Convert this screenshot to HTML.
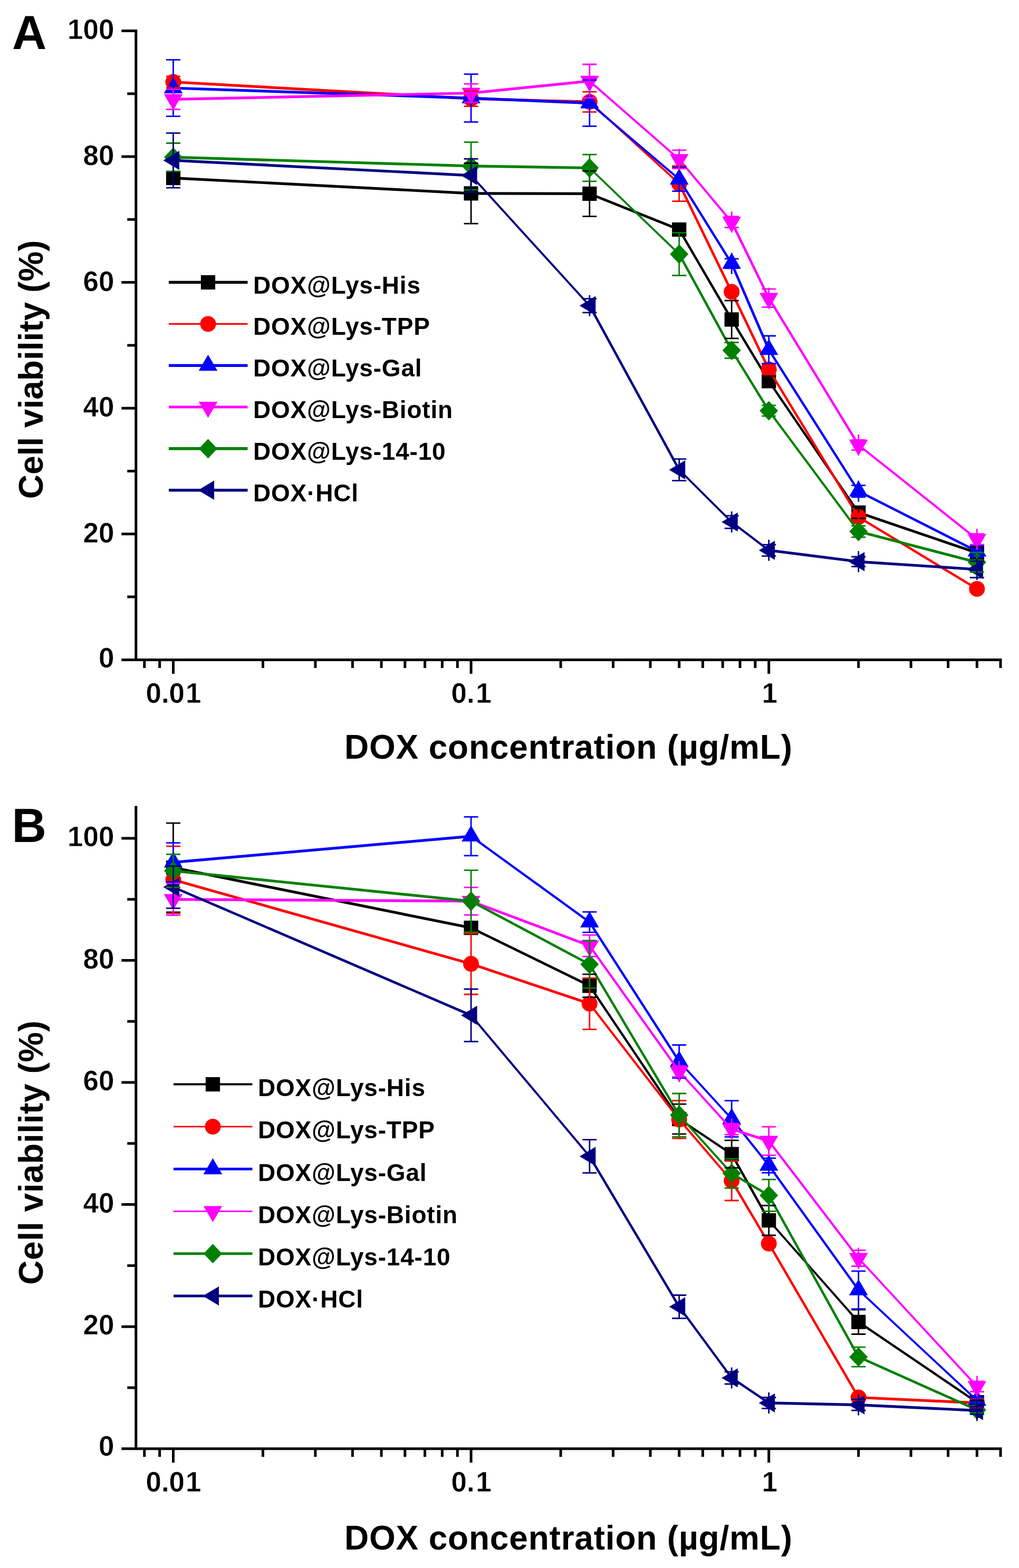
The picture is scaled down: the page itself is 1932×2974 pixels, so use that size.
<!DOCTYPE html>
<html lang="en"><head><meta charset="utf-8"><title>Cell viability vs DOX concentration</title>
<style>html,body{margin:0;padding:0;background:#fff}body{width:1932px;height:2974px;overflow:hidden}svg{display:block}</style>
</head><body>
<svg width="1932" height="2974" viewBox="0 0 1932 2974" role="img" aria-label="Cell viability versus DOX concentration, panels A and B">
<rect width="1932" height="2974" fill="#fff"/>
<g>
<path fill="none" stroke="#000000" stroke-width="5.19" d="M328.5 337.6L893.1 366.8"/>
<path fill="none" stroke="#000000" stroke-width="5.20" d="M893.1 366.8L1117.8 367.4"/>
<path fill="none" stroke="#000000" stroke-width="4.83" d="M1117.8 367.4L1287.7 435.4"/>
<path fill="none" stroke="#000000" stroke-width="4.49" d="M1287.7 435.4L1387.2 606"/>
<path fill="none" stroke="#000000" stroke-width="4.45" d="M1387.2 606L1457.7 722.9"/>
<path fill="none" stroke="#000000" stroke-width="4.30" d="M1457.7 722.9L1627.7 972.2"/>
<path fill="none" stroke="#000000" stroke-width="4.92" d="M1627.7 972.2L1852.3 1048.6"/>
<rect x="314.9" y="324" width="27.2" height="27.2" fill="#000000"/>
<rect x="879.5" y="353.2" width="27.2" height="27.2" fill="#000000"/>
<rect x="1104.2" y="353.8" width="27.2" height="27.2" fill="#000000"/>
<rect x="1274.1" y="421.8" width="27.2" height="27.2" fill="#000000"/>
<rect x="1373.6" y="592.4" width="27.2" height="27.2" fill="#000000"/>
<rect x="1444.1" y="709.3" width="27.2" height="27.2" fill="#000000"/>
<rect x="1614.1" y="958.6" width="27.2" height="27.2" fill="#000000"/>
<rect x="1838.7" y="1035" width="27.2" height="27.2" fill="#000000"/>
<path fill="none" stroke="#ff0000" stroke-width="5.19" d="M328.5 155.5L893.1 187.2"/>
<path fill="none" stroke="#ff0000" stroke-width="5.20" d="M893.1 187.2L1117.8 193.2"/>
<path fill="none" stroke="#ff0000" stroke-width="3.84" d="M1117.8 193.2L1287.7 348.3"/>
<path fill="none" stroke="#ff0000" stroke-width="4.68" d="M1287.7 348.3L1387.2 553.5"/>
<path fill="none" stroke="#ff0000" stroke-width="4.69" d="M1387.2 553.5L1457.7 700.8"/>
<path fill="none" stroke="#ff0000" stroke-width="4.44" d="M1457.7 700.8L1627.7 980.6"/>
<path fill="none" stroke="#ff0000" stroke-width="4.45" d="M1627.7 980.6L1852.3 1116.9"/>
<circle cx="328.5" cy="155.5" r="15" fill="#ff0000"/>
<circle cx="893.1" cy="187.2" r="15" fill="#ff0000"/>
<circle cx="1117.8" cy="193.2" r="15" fill="#ff0000"/>
<circle cx="1287.7" cy="348.3" r="15" fill="#ff0000"/>
<circle cx="1387.2" cy="553.5" r="15" fill="#ff0000"/>
<circle cx="1457.7" cy="700.8" r="15" fill="#ff0000"/>
<circle cx="1627.7" cy="980.6" r="15" fill="#ff0000"/>
<circle cx="1852.3" cy="1116.9" r="15" fill="#ff0000"/>
<path fill="none" stroke="#0000ff" stroke-width="5.20" d="M328.5 167L893.1 186.1"/>
<path fill="none" stroke="#0000ff" stroke-width="5.20" d="M893.1 186.1L1117.8 195.6"/>
<path fill="none" stroke="#0000ff" stroke-width="3.96" d="M1117.8 195.6L1287.7 339.9"/>
<path fill="none" stroke="#0000ff" stroke-width="4.42" d="M1287.7 339.9L1387.2 499.8"/>
<path fill="none" stroke="#0000ff" stroke-width="4.77" d="M1387.2 499.8L1457.7 663.3"/>
<path fill="none" stroke="#0000ff" stroke-width="4.39" d="M1457.7 663.3L1627.7 931.7"/>
<path fill="none" stroke="#0000ff" stroke-width="4.64" d="M1627.7 931.7L1852.3 1045.6"/>
<polygon points="328.5,146.5 346.3,177 310.7,177" fill="#0000ff"/>
<polygon points="893.1,165.6 910.9,196.1 875.3,196.1" fill="#0000ff"/>
<polygon points="1117.8,175.1 1135.6,205.6 1100,205.6" fill="#0000ff"/>
<polygon points="1287.7,319.4 1305.5,349.9 1269.9,349.9" fill="#0000ff"/>
<polygon points="1387.2,479.3 1405,509.8 1369.4,509.8" fill="#0000ff"/>
<polygon points="1457.7,642.8 1475.5,673.3 1439.9,673.3" fill="#0000ff"/>
<polygon points="1627.7,911.2 1645.5,941.7 1609.9,941.7" fill="#0000ff"/>
<polygon points="1852.3,1025.1 1870.1,1055.6 1834.5,1055.6" fill="#0000ff"/>
<path fill="none" stroke="#ff00ff" stroke-width="5.20" d="M328.5 188.4L893.1 176.5"/>
<path fill="none" stroke="#ff00ff" stroke-width="5.17" d="M893.1 176.5L1117.8 153.8"/>
<path fill="none" stroke="#ff00ff" stroke-width="3.92" d="M1117.8 153.8L1287.7 302.2"/>
<path fill="none" stroke="#ff00ff" stroke-width="3.99" d="M1287.7 302.2L1387.2 421.1"/>
<path fill="none" stroke="#ff00ff" stroke-width="4.67" d="M1387.2 421.1L1457.7 565.4"/>
<path fill="none" stroke="#ff00ff" stroke-width="4.44" d="M1457.7 565.4L1627.7 844"/>
<path fill="none" stroke="#ff00ff" stroke-width="4.07" d="M1627.7 844L1852.3 1022.7"/>
<polygon points="328.5,208.9 346.3,178.4 310.7,178.4" fill="#ff00ff"/>
<polygon points="893.1,197 910.9,166.5 875.3,166.5" fill="#ff00ff"/>
<polygon points="1117.8,174.3 1135.6,143.8 1100,143.8" fill="#ff00ff"/>
<polygon points="1287.7,322.7 1305.5,292.2 1269.9,292.2" fill="#ff00ff"/>
<polygon points="1387.2,441.6 1405,411.1 1369.4,411.1" fill="#ff00ff"/>
<polygon points="1457.7,585.9 1475.5,555.4 1439.9,555.4" fill="#ff00ff"/>
<polygon points="1627.7,864.5 1645.5,834 1609.9,834" fill="#ff00ff"/>
<polygon points="1852.3,1043.2 1870.1,1012.7 1834.5,1012.7" fill="#ff00ff"/>
<path fill="none" stroke="#008000" stroke-width="5.20" d="M328.5 298.2L893.1 314.9"/>
<path fill="none" stroke="#008000" stroke-width="5.20" d="M893.1 314.9L1117.8 318.5"/>
<path fill="none" stroke="#008000" stroke-width="3.75" d="M1117.8 318.5L1287.7 481.9"/>
<path fill="none" stroke="#008000" stroke-width="4.57" d="M1287.7 481.9L1387.2 664.4"/>
<path fill="none" stroke="#008000" stroke-width="4.43" d="M1387.2 664.4L1457.7 779"/>
<path fill="none" stroke="#008000" stroke-width="4.18" d="M1457.7 779L1627.7 1008"/>
<path fill="none" stroke="#008000" stroke-width="5.03" d="M1627.7 1008L1852.3 1066.5"/>
<polygon points="328.5,279.7 346,298.2 328.5,316.7 311,298.2" fill="#008000"/>
<polygon points="893.1,296.4 910.6,314.9 893.1,333.4 875.6,314.9" fill="#008000"/>
<polygon points="1117.8,300 1135.3,318.5 1117.8,337 1100.3,318.5" fill="#008000"/>
<polygon points="1287.7,463.4 1305.2,481.9 1287.7,500.4 1270.2,481.9" fill="#008000"/>
<polygon points="1387.2,645.9 1404.7,664.4 1387.2,682.9 1369.7,664.4" fill="#008000"/>
<polygon points="1457.7,760.5 1475.2,779 1457.7,797.5 1440.2,779" fill="#008000"/>
<polygon points="1627.7,989.5 1645.2,1008 1627.7,1026.5 1610.2,1008" fill="#008000"/>
<polygon points="1852.3,1048 1869.8,1066.5 1852.3,1085 1834.8,1066.5" fill="#008000"/>
<path fill="none" stroke="#000080" stroke-width="5.19" d="M328.5 304.2L893.1 332.8"/>
<path fill="none" stroke="#000080" stroke-width="3.85" d="M893.1 332.8L1117.8 579.7"/>
<path fill="none" stroke="#000080" stroke-width="4.56" d="M1117.8 579.7L1287.7 891.1"/>
<path fill="none" stroke="#000080" stroke-width="3.68" d="M1287.7 891.1L1387.2 990.1"/>
<path fill="none" stroke="#000080" stroke-width="4.14" d="M1387.2 990.1L1457.7 1043.8"/>
<path fill="none" stroke="#000080" stroke-width="5.16" d="M1457.7 1043.8L1627.7 1065.3"/>
<path fill="none" stroke="#000080" stroke-width="5.19" d="M1627.7 1065.3L1852.3 1080"/>
<polygon points="309.5,304.2 340,286 340,322.4" fill="#000080"/>
<polygon points="874.1,332.8 904.6,314.6 904.6,351" fill="#000080"/>
<polygon points="1098.8,579.7 1129.3,561.5 1129.3,597.9" fill="#000080"/>
<polygon points="1268.7,891.1 1299.2,872.9 1299.2,909.3" fill="#000080"/>
<polygon points="1368.2,990.1 1398.7,971.9 1398.7,1008.3" fill="#000080"/>
<polygon points="1438.7,1043.8 1469.2,1025.6 1469.2,1062" fill="#000080"/>
<polygon points="1608.7,1065.3 1639.2,1047.1 1639.2,1083.5" fill="#000080"/>
<polygon points="1833.3,1080 1863.8,1061.8 1863.8,1098.2" fill="#000080"/>
<path fill="none" stroke="#000000" stroke-width="2.8" d="M328.5 326.8V348.3M315 326.8H342M315 348.3H342M893.1 309.5V424.1M879.6 309.5H906.6M879.6 424.1H906.6M1117.8 324.4V410.3M1104.3 324.4H1131.3M1104.3 410.3H1131.3M1287.7 425.8V444.9M1274.2 425.8H1301.2M1274.2 444.9H1301.2M1387.2 570.2V641.8M1373.7 570.2H1400.7M1373.7 641.8H1400.7M1457.7 713.4V732.4M1444.2 713.4H1471.2M1444.2 732.4H1471.2M1627.7 961.3V983.2M1614.2 961.3H1641.2M1614.2 983.2H1641.2M1852.3 1037.9V1059.3M1838.8 1037.9H1865.8M1838.8 1059.3H1865.8"/>
<path fill="none" stroke="#ff0000" stroke-width="2.8" d="M328.5 144.8V166.2M315 144.8H342M315 166.2H342M893.1 172.9V201.6M879.6 172.9H906.6M879.6 201.6H906.6M1117.8 174.1V212.3M1104.3 174.1H1131.3M1104.3 212.3H1131.3M1287.7 314.9V381.7M1274.2 314.9H1301.2M1274.2 381.7H1301.2M1387.2 547.5V559.5M1373.7 547.5H1400.7M1373.7 559.5H1400.7M1457.7 691.3V710.4M1444.2 691.3H1471.2M1444.2 710.4H1471.2M1627.7 973.4V987.7M1614.2 973.4H1641.2M1614.2 987.7H1641.2M1852.3 1111V1122.9M1838.8 1111H1865.8M1838.8 1122.9H1865.8"/>
<path fill="none" stroke="#0000ff" stroke-width="2.8" d="M328.5 113.3V220.6M315 113.3H342M315 220.6H342M893.1 140.7V231.4M879.6 140.7H906.6M879.6 231.4H906.6M1117.8 151.9V239.3M1104.3 151.9H1131.3M1104.3 239.3H1131.3M1287.7 317.3V362.6M1274.2 317.3H1301.2M1274.2 362.6H1301.2M1387.2 479.8V519.8M1373.7 490.9H1400.7M1373.7 508.8H1400.7M1457.7 637V689.5M1444.2 637H1471.2M1444.2 689.5H1471.2M1627.7 911.7V951.7M1614.2 920.6H1641.2M1614.2 942.8H1641.2M1852.3 1025.6V1065.6M1838.8 1034.9H1865.8M1838.8 1056.3H1865.8"/>
<path fill="none" stroke="#ff00ff" stroke-width="2.8" d="M328.5 168.4V208.4M315 169.3H342M315 207.5H342M893.1 156.5V196.5M879.6 159.1H906.6M879.6 193.9H906.6M1117.8 122V185.7M1104.3 122H1131.3M1104.3 185.7H1131.3M1287.7 282.2V322.2M1274.2 284.8H1301.2M1274.2 319.7H1301.2M1387.2 401.1V441.1M1373.7 410.7H1400.7M1373.7 431.5H1400.7M1457.7 545.4V585.4M1444.2 548.1H1471.2M1444.2 582.7H1471.2M1627.7 824V864M1614.2 834.3H1641.2M1614.2 853.7H1641.2M1852.3 1002.7V1042.7M1838.8 1012.6H1865.8M1838.8 1032.8H1865.8"/>
<path fill="none" stroke="#008000" stroke-width="2.8" d="M328.5 271.5V324.9M315 271.5H342M315 324.9H342M893.1 269.6V360.2M879.6 269.6H906.6M879.6 360.2H906.6M1117.8 293.1V343.9M1104.3 293.1H1131.3M1104.3 343.9H1131.3M1287.7 441.4V522.5M1274.2 441.4H1301.2M1274.2 522.5H1301.2M1387.2 649.5V679.4M1373.7 649.5H1400.7M1373.7 679.4H1400.7M1457.7 768.8V789.1M1444.2 768.8H1471.2M1444.2 789.1H1471.2M1627.7 997.3V1018.8M1614.2 997.3H1641.2M1614.2 1018.8H1641.2M1852.3 1048V1085M1838.8 1048H1865.8M1838.8 1085H1865.8"/>
<path fill="none" stroke="#000080" stroke-width="2.8" d="M328.5 252.3V356.1M315 252.3H342M315 356.1H342M893.1 301.3V364.3M879.6 301.3H906.6M879.6 364.3H906.6M1117.8 559.7V599.7M1104.3 566.6H1131.3M1104.3 592.9H1131.3M1287.7 870.6V911.6M1274.2 870.6H1301.2M1274.2 911.6H1301.2M1387.2 970.1V1010.1M1373.7 978.2H1400.7M1373.7 1002.1H1400.7M1457.7 1023.8V1063.8M1444.2 1033.1H1471.2M1444.2 1054.6H1471.2M1627.7 1045.3V1085.3M1614.2 1056H1641.2M1614.2 1074.6H1641.2M1852.3 1060V1100M1838.8 1064.5H1865.8M1838.8 1095.5H1865.8"/>
<path fill="none" stroke="#000" stroke-width="5.0" d="M257.8 55.9V1253.9M230.3 1251.4H1899.5M241.3 1132.1H257.8M230.3 1012.8H257.8M241.3 893.5H257.8M230.3 774.2H257.8M241.3 654.9H257.8M230.3 535.6H257.8M241.3 416.3H257.8M230.3 297H257.8M241.3 177.7H257.8M230.3 58.4H257.8M273.8 1251.4V1266.9M302.7 1251.4V1266.9M328.5 1251.4V1277.9M498.5 1251.4V1266.9M597.9 1251.4V1266.9M668.4 1251.4V1266.9M723.1 1251.4V1266.9M767.8 1251.4V1266.9M805.6 1251.4V1266.9M838.4 1251.4V1266.9M867.3 1251.4V1266.9M893.1 1251.4V1277.9M1063.1 1251.4V1266.9M1162.5 1251.4V1266.9M1233 1251.4V1266.9M1287.7 1251.4V1266.9M1332.4 1251.4V1266.9M1370.2 1251.4V1266.9M1403 1251.4V1266.9M1431.9 1251.4V1266.9M1457.7 1251.4V1277.9M1627.7 1251.4V1266.9M1727.1 1251.4V1266.9M1797.6 1251.4V1266.9M1852.3 1251.4V1266.9M1897 1251.4V1266.9"/>
<g font-family='"Liberation Sans", sans-serif' font-weight="700" font-size="53" fill="#000" stroke="#fff" stroke-width="0.5">
<text x="216.5" y="1266.1" text-anchor="end">0</text>
<text x="216.5" y="1028.8" text-anchor="end">20</text>
<text x="216.5" y="790.2" text-anchor="end">40</text>
<text x="216.5" y="551.6" text-anchor="end">60</text>
<text x="216.5" y="313" text-anchor="end">80</text>
<text x="216.5" y="74.4" text-anchor="end">100</text>
<text x="276.4" y="1332.9" dx="0 0 0 2">0.01</text>
<text x="855.5" y="1332.9" dx="0 0 2.5">0.1</text>
<text x="1444.5" y="1332.9">1</text>
</g>
<g font-family='"Liberation Sans", sans-serif' font-weight="700" font-size="64" fill="#000">
<text x="653" y="1438.9" letter-spacing="0.8">DOX concentration (µg/mL)</text>
<text transform="translate(81 700.9) rotate(-90)" text-anchor="middle" letter-spacing="0">Cell viability (%)</text>
</g>
<text x="23" y="93.2" font-family='"Liberation Sans", sans-serif' font-weight="700" font-size="90.5" fill="#000">A</text>
<g font-family='"Liberation Sans", sans-serif' font-weight="700" font-size="46" letter-spacing="0.8" fill="#000">
<path fill="none" stroke="#000000" stroke-width="5.6" d="M320 535.5H469.5"/>
<rect x="380.9" y="521.9" width="27.2" height="27.2" fill="#000000"/>
<text x="480" y="556.5">DOX@Lys-His</text>
<path fill="none" stroke="#ff0000" stroke-width="3.2" d="M320 614.4H469.5"/>
<circle cx="394.5" cy="614.4" r="15" fill="#ff0000"/>
<text x="480" y="635.4">DOX@Lys-TPP</text>
<path fill="none" stroke="#0000ff" stroke-width="5.6" d="M320 693.2H469.5"/>
<polygon points="394.5,672.7 412.3,703.2 376.7,703.2" fill="#0000ff"/>
<text x="480" y="714.2">DOX@Lys-Gal</text>
<path fill="none" stroke="#ff00ff" stroke-width="5.0" d="M320 772H469.5"/>
<polygon points="394.5,792.5 412.3,762 376.7,762" fill="#ff00ff"/>
<text x="480" y="793">DOX@Lys-Biotin</text>
<path fill="none" stroke="#008000" stroke-width="5.6" d="M320 850.9H469.5"/>
<polygon points="394.5,832.4 412,850.9 394.5,869.4 377,850.9" fill="#008000"/>
<text x="480" y="871.9">DOX@Lys-14-10</text>
<path fill="none" stroke="#000080" stroke-width="5.6" d="M320 929.8H469.5"/>
<polygon points="375.5,929.8 406,911.5 406,948" fill="#000080"/>
<text x="480" y="950.8">DOX·HCl</text>
</g>
</g>
<g>
<path fill="none" stroke="#000000" stroke-width="5.10" d="M328.5 1645.6L893.1 1759.8"/>
<path fill="none" stroke="#000000" stroke-width="4.67" d="M893.1 1759.8L1117.8 1869.7"/>
<path fill="none" stroke="#000000" stroke-width="4.32" d="M1117.8 1869.7L1287.7 2122.5"/>
<path fill="none" stroke="#000000" stroke-width="4.32" d="M1287.7 2122.5L1387.2 2189"/>
<path fill="none" stroke="#000000" stroke-width="4.53" d="M1387.2 2189L1457.7 2314.7"/>
<path fill="none" stroke="#000000" stroke-width="3.90" d="M1457.7 2314.7L1627.7 2507.4"/>
<path fill="none" stroke="#000000" stroke-width="4.30" d="M1627.7 2507.4L1852.3 2659.7"/>
<rect x="314.9" y="1632" width="27.2" height="27.2" fill="#000000"/>
<rect x="879.5" y="1746.2" width="27.2" height="27.2" fill="#000000"/>
<rect x="1104.2" y="1856.1" width="27.2" height="27.2" fill="#000000"/>
<rect x="1274.1" y="2108.9" width="27.2" height="27.2" fill="#000000"/>
<rect x="1373.6" y="2175.4" width="27.2" height="27.2" fill="#000000"/>
<rect x="1444.1" y="2301.1" width="27.2" height="27.2" fill="#000000"/>
<rect x="1614.1" y="2493.8" width="27.2" height="27.2" fill="#000000"/>
<rect x="1838.7" y="2646.1" width="27.2" height="27.2" fill="#000000"/>
<path fill="none" stroke="#ff0000" stroke-width="5.00" d="M328.5 1668.7L893.1 1828.1"/>
<path fill="none" stroke="#ff0000" stroke-width="4.93" d="M893.1 1828.1L1117.8 1903.7"/>
<path fill="none" stroke="#ff0000" stroke-width="4.11" d="M1117.8 1903.7L1287.7 2123.4"/>
<path fill="none" stroke="#ff0000" stroke-width="3.95" d="M1287.7 2123.4L1387.2 2239.5"/>
<path fill="none" stroke="#ff0000" stroke-width="4.48" d="M1387.2 2239.5L1457.7 2358.7"/>
<path fill="none" stroke="#ff0000" stroke-width="4.49" d="M1457.7 2358.7L1627.7 2650.5"/>
<path fill="none" stroke="#ff0000" stroke-width="5.19" d="M1627.7 2650.5L1852.3 2660.9"/>
<circle cx="328.5" cy="1668.7" r="15" fill="#ff0000"/>
<circle cx="893.1" cy="1828.1" r="15" fill="#ff0000"/>
<circle cx="1117.8" cy="1903.7" r="15" fill="#ff0000"/>
<circle cx="1287.7" cy="2123.4" r="15" fill="#ff0000"/>
<circle cx="1387.2" cy="2239.5" r="15" fill="#ff0000"/>
<circle cx="1457.7" cy="2358.7" r="15" fill="#ff0000"/>
<circle cx="1627.7" cy="2650.5" r="15" fill="#ff0000"/>
<circle cx="1852.3" cy="2660.9" r="15" fill="#ff0000"/>
<path fill="none" stroke="#0000ff" stroke-width="5.18" d="M328.5 1635.6L893.1 1586.1"/>
<path fill="none" stroke="#0000ff" stroke-width="4.21" d="M893.1 1586.1L1117.8 1749"/>
<path fill="none" stroke="#0000ff" stroke-width="4.37" d="M1117.8 1749L1287.7 2013.3"/>
<path fill="none" stroke="#0000ff" stroke-width="3.84" d="M1287.7 2013.3L1387.2 2122"/>
<path fill="none" stroke="#0000ff" stroke-width="4.07" d="M1387.2 2122L1457.7 2210.5"/>
<path fill="none" stroke="#0000ff" stroke-width="4.22" d="M1457.7 2210.5L1627.7 2446.7"/>
<path fill="none" stroke="#0000ff" stroke-width="3.80" d="M1627.7 2446.7L1852.3 2656.2"/>
<polygon points="328.5,1615.1 346.3,1645.6 310.7,1645.6" fill="#0000ff"/>
<polygon points="893.1,1565.6 910.9,1596.1 875.3,1596.1" fill="#0000ff"/>
<polygon points="1117.8,1728.5 1135.6,1759 1100,1759" fill="#0000ff"/>
<polygon points="1287.7,1992.8 1305.5,2023.3 1269.9,2023.3" fill="#0000ff"/>
<polygon points="1387.2,2101.5 1405,2132 1369.4,2132" fill="#0000ff"/>
<polygon points="1457.7,2190 1475.5,2220.5 1439.9,2220.5" fill="#0000ff"/>
<polygon points="1627.7,2426.2 1645.5,2456.7 1609.9,2456.7" fill="#0000ff"/>
<polygon points="1852.3,2635.7 1870.1,2666.2 1834.5,2666.2" fill="#0000ff"/>
<path fill="none" stroke="#ff00ff" stroke-width="5.20" d="M328.5 1705.8L893.1 1709.2"/>
<path fill="none" stroke="#ff00ff" stroke-width="4.87" d="M893.1 1709.2L1117.8 1793.8"/>
<path fill="none" stroke="#ff00ff" stroke-width="4.23" d="M1117.8 1793.8L1287.7 2032.2"/>
<path fill="none" stroke="#ff00ff" stroke-width="3.85" d="M1287.7 2032.2L1387.2 2141.6"/>
<path fill="none" stroke="#ff00ff" stroke-width="4.95" d="M1387.2 2141.6L1457.7 2164.2"/>
<path fill="none" stroke="#ff00ff" stroke-width="4.13" d="M1457.7 2164.2L1627.7 2386.5"/>
<path fill="none" stroke="#ff00ff" stroke-width="3.82" d="M1627.7 2386.5L1852.3 2629.6"/>
<polygon points="328.5,1726.3 346.3,1695.8 310.7,1695.8" fill="#ff00ff"/>
<polygon points="893.1,1729.7 910.9,1699.2 875.3,1699.2" fill="#ff00ff"/>
<polygon points="1117.8,1814.3 1135.6,1783.8 1100,1783.8" fill="#ff00ff"/>
<polygon points="1287.7,2052.7 1305.5,2022.2 1269.9,2022.2" fill="#ff00ff"/>
<polygon points="1387.2,2162.1 1405,2131.6 1369.4,2131.6" fill="#ff00ff"/>
<polygon points="1457.7,2184.7 1475.5,2154.2 1439.9,2154.2" fill="#ff00ff"/>
<polygon points="1627.7,2407 1645.5,2376.5 1609.9,2376.5" fill="#ff00ff"/>
<polygon points="1852.3,2650.1 1870.1,2619.6 1834.5,2619.6" fill="#ff00ff"/>
<path fill="none" stroke="#008000" stroke-width="5.17" d="M328.5 1651.7L893.1 1709.2"/>
<path fill="none" stroke="#008000" stroke-width="4.59" d="M893.1 1709.2L1117.8 1829.1"/>
<path fill="none" stroke="#008000" stroke-width="4.47" d="M1117.8 1829.1L1287.7 2115.1"/>
<path fill="none" stroke="#008000" stroke-width="3.86" d="M1287.7 2115.1L1387.2 2225.6"/>
<path fill="none" stroke="#008000" stroke-width="4.48" d="M1387.2 2225.6L1457.7 2267.3"/>
<path fill="none" stroke="#008000" stroke-width="4.55" d="M1457.7 2267.3L1627.7 2573.7"/>
<path fill="none" stroke="#008000" stroke-width="4.75" d="M1627.7 2573.7L1852.3 2674.2"/>
<polygon points="328.5,1633.2 346,1651.7 328.5,1670.2 311,1651.7" fill="#008000"/>
<polygon points="893.1,1690.7 910.6,1709.2 893.1,1727.7 875.6,1709.2" fill="#008000"/>
<polygon points="1117.8,1810.6 1135.3,1829.1 1117.8,1847.6 1100.3,1829.1" fill="#008000"/>
<polygon points="1287.7,2096.6 1305.2,2115.1 1287.7,2133.6 1270.2,2115.1" fill="#008000"/>
<polygon points="1387.2,2207.1 1404.7,2225.6 1387.2,2244.1 1369.7,2225.6" fill="#008000"/>
<polygon points="1457.7,2248.8 1475.2,2267.3 1457.7,2285.8 1440.2,2267.3" fill="#008000"/>
<polygon points="1627.7,2555.2 1645.2,2573.7 1627.7,2592.2 1610.2,2573.7" fill="#008000"/>
<polygon points="1852.3,2655.7 1869.8,2674.2 1852.3,2692.7 1834.8,2674.2" fill="#008000"/>
<path fill="none" stroke="#000080" stroke-width="4.78" d="M328.5 1682.6L893.1 1925.7"/>
<path fill="none" stroke="#000080" stroke-width="3.98" d="M893.1 1925.7L1117.8 2193.2"/>
<path fill="none" stroke="#000080" stroke-width="4.47" d="M1117.8 2193.2L1287.7 2478.5"/>
<path fill="none" stroke="#000080" stroke-width="4.19" d="M1287.7 2478.5L1387.2 2613.4"/>
<path fill="none" stroke="#000080" stroke-width="4.31" d="M1387.2 2613.4L1457.7 2660.9"/>
<path fill="none" stroke="#000080" stroke-width="5.20" d="M1457.7 2660.9L1627.7 2664.6"/>
<path fill="none" stroke="#000080" stroke-width="5.19" d="M1627.7 2664.6L1852.3 2675.3"/>
<polygon points="309.5,1682.6 340,1664.4 340,1700.8" fill="#000080"/>
<polygon points="874.1,1925.7 904.6,1907.5 904.6,1943.9" fill="#000080"/>
<polygon points="1098.8,2193.2 1129.3,2175 1129.3,2211.4" fill="#000080"/>
<polygon points="1268.7,2478.5 1299.2,2460.3 1299.2,2496.7" fill="#000080"/>
<polygon points="1368.2,2613.4 1398.7,2595.2 1398.7,2631.6" fill="#000080"/>
<polygon points="1438.7,2660.9 1469.2,2642.7 1469.2,2679.1" fill="#000080"/>
<polygon points="1608.7,2664.6 1639.2,2646.4 1639.2,2682.8" fill="#000080"/>
<polygon points="1833.3,2675.3 1863.8,2657.1 1863.8,2693.5" fill="#000080"/>
<path fill="none" stroke="#000000" stroke-width="2.8" d="M328.5 1561.1V1730.1M315 1561.1H342M315 1730.1H342M893.1 1749.4V1770.3M879.6 1749.4H906.6M879.6 1770.3H906.6M1117.8 1847.9V1891.5M1104.3 1847.9H1131.3M1104.3 1891.5H1131.3M1287.7 2094.2V2150.9M1274.2 2094.2H1301.2M1274.2 2150.9H1301.2M1387.2 2162.9V2215M1373.7 2162.9H1400.7M1373.7 2215H1400.7M1457.7 2286.5V2343M1444.2 2286.5H1471.2M1444.2 2343H1471.2M1627.7 2484.2V2530.5M1614.2 2484.2H1641.2M1614.2 2530.5H1641.2M1852.3 2656.2V2663.2M1838.8 2656.2H1865.8M1838.8 2663.2H1865.8"/>
<path fill="none" stroke="#ff0000" stroke-width="2.8" d="M328.5 1605.1V1732.4M315 1605.1H342M315 1732.4H342M893.1 1770.3V1886M879.6 1770.3H906.6M879.6 1886H906.6M1117.8 1855.1V1952.4M1104.3 1855.1H1131.3M1104.3 1952.4H1131.3M1287.7 2087.5V2159.2M1274.2 2087.5H1301.2M1274.2 2159.2H1301.2M1387.2 2202V2277M1373.7 2202H1400.7M1373.7 2277H1400.7M1457.7 2355.2V2362.2M1444.2 2355.2H1471.2M1444.2 2362.2H1471.2M1627.7 2645.8V2655.1M1614.2 2645.8H1641.2M1614.2 2655.1H1641.2M1852.3 2652.2V2669.6M1838.8 2652.2H1865.8M1838.8 2669.6H1865.8"/>
<path fill="none" stroke="#0000ff" stroke-width="2.8" d="M328.5 1598.6V1672.7M315 1598.6H342M315 1672.7H342M893.1 1549.4V1622.8M879.6 1549.4H906.6M879.6 1622.8H906.6M1117.8 1729V1769M1104.3 1729.6H1131.3M1104.3 1768.3H1131.3M1287.7 1982V2044.5M1274.2 1982H1301.2M1274.2 2044.5H1301.2M1387.2 2087.6V2156.3M1373.7 2087.6H1400.7M1373.7 2156.3H1400.7M1457.7 2190.5V2230.5M1444.2 2196.6H1471.2M1444.2 2224.4H1471.2M1627.7 2410.8V2482.6M1614.2 2410.8H1641.2M1614.2 2482.6H1641.2M1852.3 2636.2V2676.2M1838.8 2650.5H1865.8M1838.8 2662H1865.8"/>
<path fill="none" stroke="#ff00ff" stroke-width="2.8" d="M328.5 1675.7V1735.9M315 1675.7H342M315 1735.9H342M893.1 1683.2V1735.3M879.6 1683.2H906.6M879.6 1735.3H906.6M1117.8 1773.3V1814.2M1104.3 1773.3H1131.3M1104.3 1814.2H1131.3M1287.7 2012.2V2052.2M1274.2 2021.8H1301.2M1274.2 2042.7H1301.2M1387.2 2121.6V2161.6M1373.7 2131.2H1400.7M1373.7 2152.1H1400.7M1457.7 2137.2V2191.2M1444.2 2137.2H1471.2M1444.2 2191.2H1471.2M1627.7 2366.5V2406.5M1614.2 2371.4H1641.2M1614.2 2401.5H1641.2M1852.3 2609.6V2649.6M1838.8 2619.8H1865.8M1838.8 2639.5H1865.8"/>
<path fill="none" stroke="#008000" stroke-width="2.8" d="M328.5 1620.4V1683M315 1620.4H342M315 1683H342M893.1 1650.7V1767.8M879.6 1650.7H906.6M879.6 1767.8H906.6M1117.8 1783.9V1874.2M1104.3 1783.9H1131.3M1104.3 1874.2H1131.3M1287.7 2074V2156.2M1274.2 2074H1301.2M1274.2 2156.2H1301.2M1387.2 2197.8V2253.4M1373.7 2197.8H1400.7M1373.7 2253.4H1400.7M1457.7 2237.2V2297.4M1444.2 2237.2H1471.2M1444.2 2297.4H1471.2M1627.7 2555.2V2592.2M1614.2 2555.2H1641.2M1614.2 2592.2H1641.2M1852.3 2668.4V2680M1838.8 2668.4H1865.8M1838.8 2680H1865.8"/>
<path fill="none" stroke="#000080" stroke-width="2.8" d="M328.5 1642.7V1722.6M315 1642.7H342M315 1722.6H342M893.1 1876V1975.5M879.6 1876H906.6M879.6 1975.5H906.6M1117.8 2161.7V2224.7M1104.3 2161.7H1131.3M1104.3 2224.7H1131.3M1287.7 2456.5V2500.5M1274.2 2456.5H1301.2M1274.2 2500.5H1301.2M1387.2 2593.4V2633.4M1373.7 2601.8H1400.7M1373.7 2625H1400.7M1457.7 2640.9V2680.9M1444.2 2650.5H1471.2M1444.2 2671.3H1471.2M1627.7 2644.6V2684.6M1614.2 2654.2H1641.2M1614.2 2675H1641.2M1852.3 2655.3V2695.3M1838.8 2668.4H1865.8M1838.8 2682.3H1865.8"/>
<path fill="none" stroke="#000" stroke-width="5.0" d="M257.8 1528.6V2750.2M230.3 2747.7H1899.5M241.3 2631.9H257.8M230.3 2516.2H257.8M241.3 2400.4H257.8M230.3 2284.6H257.8M241.3 2168.8H257.8M230.3 2053.1H257.8M241.3 1937.3H257.8M230.3 1821.5H257.8M241.3 1705.8H257.8M230.3 1590H257.8M273.8 2747.7V2763.2M302.7 2747.7V2763.2M328.5 2747.7V2774.2M498.5 2747.7V2763.2M597.9 2747.7V2763.2M668.4 2747.7V2763.2M723.1 2747.7V2763.2M767.8 2747.7V2763.2M805.6 2747.7V2763.2M838.4 2747.7V2763.2M867.3 2747.7V2763.2M893.1 2747.7V2774.2M1063.1 2747.7V2763.2M1162.5 2747.7V2763.2M1233 2747.7V2763.2M1287.7 2747.7V2763.2M1332.4 2747.7V2763.2M1370.2 2747.7V2763.2M1403 2747.7V2763.2M1431.9 2747.7V2763.2M1457.7 2747.7V2774.2M1627.7 2747.7V2763.2M1727.1 2747.7V2763.2M1797.6 2747.7V2763.2M1852.3 2747.7V2763.2M1897 2747.7V2763.2"/>
<g font-family='"Liberation Sans", sans-serif' font-weight="700" font-size="53" fill="#000" stroke="#fff" stroke-width="0.5">
<text x="216.5" y="2761.4" text-anchor="end">0</text>
<text x="216.5" y="2531.2" text-anchor="end">20</text>
<text x="216.5" y="2299.6" text-anchor="end">40</text>
<text x="216.5" y="2068.1" text-anchor="end">60</text>
<text x="216.5" y="1836.5" text-anchor="end">80</text>
<text x="216.5" y="1605" text-anchor="end">100</text>
<text x="276.4" y="2829.2" dx="0 0 0 2">0.01</text>
<text x="855.5" y="2829.2" dx="0 0 2.5">0.1</text>
<text x="1444.5" y="2829.2">1</text>
</g>
<g font-family='"Liberation Sans", sans-serif' font-weight="700" font-size="64" fill="#000">
<text x="653" y="2939" letter-spacing="0.8">DOX concentration (µg/mL)</text>
<text transform="translate(81 2185.9) rotate(-90)" text-anchor="middle" letter-spacing="0.6">Cell viability (%)</text>
</g>
<text x="22.5" y="1597" font-family='"Liberation Sans", sans-serif' font-weight="700" font-size="90.5" fill="#000">B</text>
<g font-family='"Liberation Sans", sans-serif' font-weight="700" font-size="46" letter-spacing="0.8" fill="#000">
<path fill="none" stroke="#000000" stroke-width="4.0" d="M329 2056.6H478.5"/>
<rect x="389.9" y="2043" width="27.2" height="27.2" fill="#000000"/>
<text x="489" y="2078.9">DOX@Lys-His</text>
<path fill="none" stroke="#ff0000" stroke-width="2.8" d="M329 2136.9H478.5"/>
<circle cx="403.5" cy="2136.9" r="15" fill="#ff0000"/>
<text x="489" y="2159.2">DOX@Lys-TPP</text>
<path fill="none" stroke="#0000ff" stroke-width="5.0" d="M329 2217.2H478.5"/>
<polygon points="403.5,2196.7 421.3,2227.2 385.7,2227.2" fill="#0000ff"/>
<text x="489" y="2239.5">DOX@Lys-Gal</text>
<path fill="none" stroke="#ff00ff" stroke-width="3.2" d="M329 2297.5H478.5"/>
<polygon points="403.5,2318 421.3,2287.5 385.7,2287.5" fill="#ff00ff"/>
<text x="489" y="2319.8">DOX@Lys-Biotin</text>
<path fill="none" stroke="#008000" stroke-width="5.0" d="M329 2377.8H478.5"/>
<polygon points="403.5,2359.3 421,2377.8 403.5,2396.3 386,2377.8" fill="#008000"/>
<text x="489" y="2400.1">DOX@Lys-14-10</text>
<path fill="none" stroke="#000080" stroke-width="5.0" d="M329 2458.1H478.5"/>
<polygon points="384.5,2458.1 415,2439.9 415,2476.3" fill="#000080"/>
<text x="489" y="2480.4">DOX·HCl</text>
</g>
</g>
</svg>
</body></html>
